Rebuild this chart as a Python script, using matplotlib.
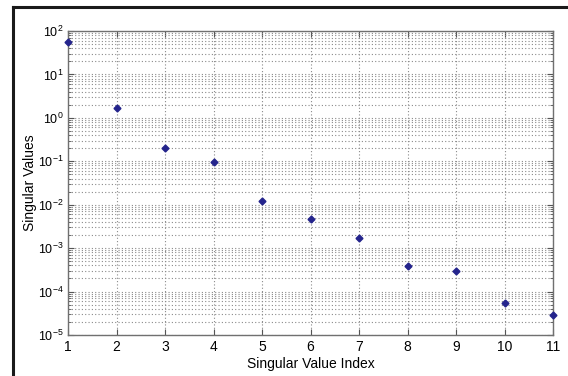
import matplotlib
matplotlib.use("Agg")
import matplotlib.pyplot as plt
from matplotlib.lines import Line2D
from matplotlib.ticker import LogLocator, FixedLocator, NullFormatter

plt.rcParams['font.family'] = ['Liberation Sans', 'DejaVu Sans']

# singular values
index = [1, 2, 3, 4, 5, 6, 7, 8, 9, 10, 11]
values = [57, 1.73, 0.20, 0.098, 0.0125, 0.0046, 0.00175, 3.9e-4, 3.0e-4, 5.6e-5, 2.85e-5]

fig = plt.figure(figsize=(5.68, 3.76), dpi=100)
ax = fig.add_axes([68 / 568, 1 - 335 / 376, (553 - 68) / 568, (335 - 31) / 376])

ax.semilogy(index, values, linestyle='none', marker='D', markersize=3.5,
            color='#24248c', clip_on=False, zorder=3)

ax.set_xlim(1, 11)
ax.set_ylim(1e-5, 1e2)
ax.xaxis.set_major_locator(FixedLocator(index))
ax.yaxis.set_major_locator(LogLocator(base=10, numticks=20))
ax.yaxis.set_minor_locator(LogLocator(base=10, subs=range(2, 10), numticks=20))
ax.yaxis.set_minor_formatter(NullFormatter())

grid_kw = dict(color='#8a8a8a', linestyle=(0, (1, 2)), linewidth=0.8)
ax.grid(True, which='major', axis='both', **grid_kw)
ax.grid(True, which='minor', axis='y', **grid_kw)

ax.tick_params(which='both', direction='in', top=True, right=True,
               colors='#555555', labelcolor='black')
ax.tick_params(axis='x', labelsize=10)
ax.tick_params(axis='y', labelsize=9, pad=3)
ax.tick_params(which='major', length=4)
ax.tick_params(which='minor', length=2)
for s in ax.spines.values():
    s.set_color('#707070')
    s.set_linewidth(1.0)

ax.set_xlabel('Singular Value Index', fontsize=10)
ax.set_ylabel('Singular Values', fontsize=10)
ax.xaxis.set_label_coords(0.5, -0.074)
ax.yaxis.set_label_coords(-0.064, 0.5)

# frame of the original screenshot (top and left edges only)
fig.add_artist(Line2D([13 / 568, 1], [1 - 7 / 376] * 2, color='#1a1a1a',
                      linewidth=2.2, transform=fig.transFigure))
fig.add_artist(Line2D([13 / 568] * 2, [0, 1 - 7 / 376], color='#1a1a1a',
                      linewidth=2.2, transform=fig.transFigure))

fig.savefig('out.png', dpi=100)
